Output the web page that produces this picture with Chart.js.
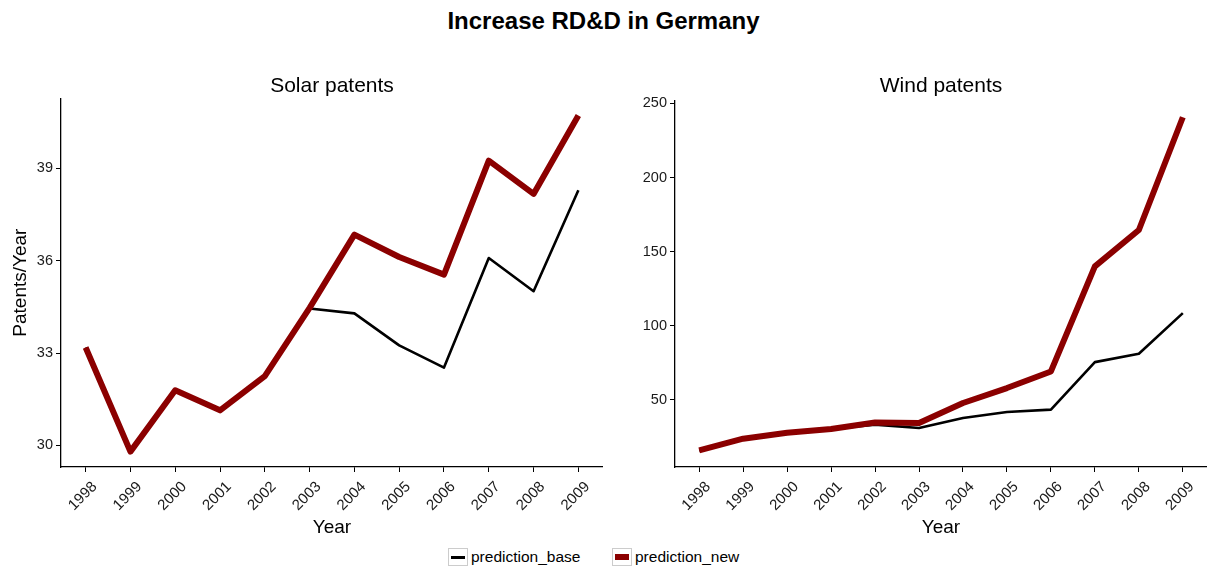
<!DOCTYPE html>
<html>
<head>
<meta charset="utf-8">
<script src="https://cdn.jsdelivr.net/npm/chart.js@4"></script>
<style>
  html, body { margin: 0; padding: 0; background: #fff; }
  body { width: 1207px; height: 569px; position: relative; overflow: hidden; font-family: "Liberation Sans", Arial, sans-serif; }
  #title { position: absolute; left: 0; width: 1207px; top: 7px; text-align: center; font-weight: bold; font-size: 24px; color: #000; }
  #c1 { position: absolute; left: 0; top: 0; }
  #c2 { position: absolute; left: 603px; top: 0; }
  #legend { position: absolute; top: 547px; left: 0; width: 1207px; height: 20px; }
  .item { position: absolute; top: 0; height: 20px; display: flex; align-items: center; font-size: 15.5px; color: #000; }
  .box { width: 20px; height: 18px; border: 1px solid #ccc; position: relative; margin-right: 3px; box-sizing: border-box; }
  .box .ln { position: absolute; left: 2px; right: 2px; top: 50%; }
</style>
</head>
<body>
<div id="title">Increase RD&amp;D in Germany</div>
<canvas id="c1" width="603" height="539"></canvas>
<canvas id="c2" width="604" height="539"></canvas>
<div id="legend">
  <div class="item" style="left:448px;"><div class="box"><div class="ln" style="height:3px;margin-top:-1.5px;background:#000;"></div></div>prediction_base</div>
  <div class="item" style="left:612px;"><div class="box"><div class="ln" style="height:6px;margin-top:-3px;background:#8B0000;"></div></div>prediction_new</div>
</div>
<script>
// ---- data ----
const years = [1998, 1999, 2000, 2001, 2002, 2003, 2004, 2005, 2006, 2007, 2008, 2009];
const solarBase = [33.18, 29.8, 31.79, 31.14, 32.25, 34.45, 34.29, 33.25, 32.53, 36.09, 35.01, 38.29];
const solarNew  = [33.18, 29.8, 31.79, 31.14, 32.25, 34.47, 36.85, 36.12, 35.55, 39.25, 38.17, 40.72];
const windBase  = [15.8, 23.7, 27.7, 30.3, 33.2, 30.9, 37.7, 41.7, 43.3, 75.4, 81.1, 108.5];
const windNew   = [15.8, 23.7, 27.7, 30.3, 34.7, 34.3, 47.8, 57.9, 69.1, 140, 164.6, 240.7];
const solarYTicks = [30, 33, 36, 39];
const windYTicks = [50, 100, 150, 200, 250];
const seriesNames = ['prediction_base', 'prediction_new'];
const panelTitles = ['Solar patents', 'Wind patents'];
const xTitle = 'Year';
const yTitle = 'Patents/Year';

const FONT = '"Liberation Sans", Arial, sans-serif';
const BASE_COLOR = '#000000';
const NEW_COLOR = '#8B0000';

function pts(arr) { return years.map((y, i) => ({ x: y, y: arr[i] })); }

function makeChart(id, base, neu, title, yTicks, yMin, yMax, yWidth, showYTitle, titleBottomPad) {
  return new Chart(document.getElementById(id), {
    type: 'line',
    data: {
      datasets: [
        { label: seriesNames[0], data: pts(base), borderColor: BASE_COLOR, borderWidth: 2.6, pointRadius: 0, tension: 0, order: 2, borderJoinStyle: 'round', borderCapStyle: 'butt' },
        { label: seriesNames[1], data: pts(neu), borderColor: NEW_COLOR, borderWidth: 6, pointRadius: 0, tension: 0, order: 1, borderJoinStyle: 'round', borderCapStyle: 'butt' }
      ]
    },
    options: {
      responsive: false,
      animation: false,
      devicePixelRatio: 1,
      layout: { padding: 0 },
      plugins: {
        legend: { display: false },
        tooltip: { enabled: false },
        title: {
          display: true, text: title, color: '#000', fullSize: false,
          font: { family: FONT, size: 21, weight: 'normal', lineHeight: 1.2 },
          padding: { top: 74, bottom: titleBottomPad }
        }
      },
      scales: {
        x: {
          type: 'linear',
          min: 1997.45, max: 2009.55,
          afterBuildTicks: (s) => { s.ticks = years.map(v => ({ value: v })); },
          afterFit: (s) => { s.height = 539 - 467; s.paddingLeft = 0; s.paddingRight = 0; },
          ticks: {
            color: '#1a1a1a', font: { family: FONT, size: 15 },
            minRotation: 45, maxRotation: 45, padding: 6, labelOffset: 9,
            callback: (v) => String(v)
          },
          grid: { display: true, drawOnChartArea: false, drawTicks: true, tickLength: 5, color: '#000', lineWidth: 1 },
          border: { display: true, color: '#000', width: 1.3 },
          title: { display: true, text: xTitle, color: '#000', font: { family: FONT, size: 19 }, padding: { top: 4, bottom: 0 } }
        },
        y: {
          type: 'linear',
          min: yMin, max: yMax,
          afterBuildTicks: (s) => { s.ticks = yTicks.map(v => ({ value: v })); },
          afterFit: (s) => { s.width = yWidth; s.paddingTop = 0; s.paddingBottom = 0; },
          ticks: { color: '#1a1a1a', font: { family: FONT, size: 14.5 }, padding: 3, callback: (v) => String(v) },
          grid: { display: true, drawOnChartArea: false, drawTicks: true, tickLength: 5, color: '#000', lineWidth: 1 },
          border: { display: true, color: '#000', width: 1.3 },
          title: { display: showYTitle, text: yTitle, color: '#000', font: { family: FONT, size: 19 }, padding: { top: 9, bottom: 0 } }
        }
      }
    }
  });
}

makeChart('c1', solarBase, solarNew, panelTitles[0], solarYTicks, 29.3, 41.28, 61, true, -1);
makeChart('c2', windBase, windNew, panelTitles[1], windYTicks, 4.6, 252.2, 72, false, 1);
</script>
</body>
</html>
